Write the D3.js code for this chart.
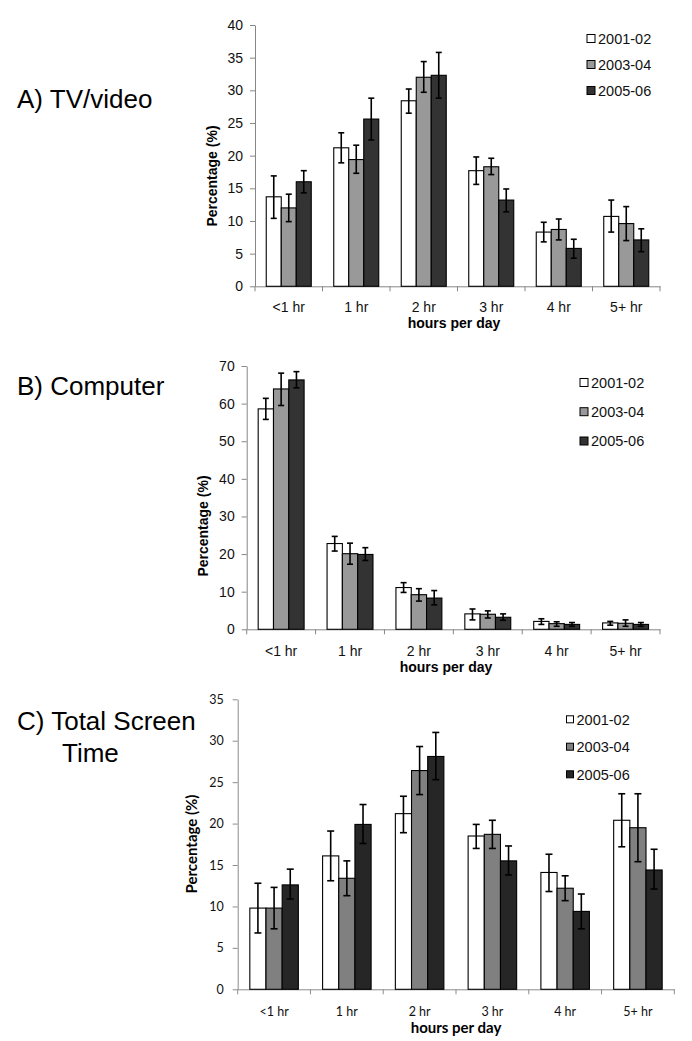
<!DOCTYPE html>
<html>
<head>
<meta charset="utf-8">
<script src="https://cdn.jsdelivr.net/npm/d3@7"></script>
<style>
  html, body { margin: 0; padding: 0; background: #fff; }
  svg { display: block; }
</style>
</head>
<body>
<svg id="chart" width="692" height="1041"></svg>
<script>
// ---------- DATA ----------
const categories = ["<1 hr", "1 hr", "2 hr", "3 hr", "4 hr", "5+ hr"];
const seriesNames = ["2001-02", "2003-04", "2005-06"];

// A) TV/video  (rows = series 2001-02, 2003-04, 2005-06)
const tvMean = [
  [13.7, 21.2, 28.4, 17.7, 8.3, 10.7],
  [12.0, 19.4, 32.0, 18.3, 8.7, 9.6],
  [16.0, 25.6, 32.3, 13.2, 5.8, 7.1]
];
const tvLow = [
  [10.4, 18.9, 26.5, 15.6, 6.8, 8.3],
  [9.9, 17.3, 29.7, 17.1, 7.1, 7.0],
  [14.3, 22.4, 28.8, 11.4, 4.3, 5.3]
];
const tvHigh = [
  [16.9, 23.5, 30.2, 19.8, 9.8, 13.2],
  [14.1, 21.6, 34.4, 19.6, 10.3, 12.2],
  [17.7, 28.8, 35.8, 14.9, 7.2, 8.8]
];
const tvTicks = [0, 5, 10, 15, 20, 25, 30, 35, 40];

// B) Computer
const compMean = [
  [58.6, 22.8, 11.1, 4.1, 2.1, 1.7],
  [63.9, 20.1, 9.2, 4.0, 1.5, 1.6],
  [66.3, 19.9, 8.3, 3.2, 1.3, 1.3]
];
const compLow = [
  [55.8, 20.8, 9.8, 2.5, 1.3, 1.1],
  [59.5, 17.3, 7.5, 3.0, 0.8, 0.8],
  [64.2, 18.3, 6.5, 2.4, 0.8, 0.8]
];
const compHigh = [
  [61.4, 24.7, 12.4, 5.4, 2.8, 2.1],
  [68.1, 22.9, 10.8, 4.9, 2.0, 2.5],
  [68.5, 21.7, 10.3, 4.1, 1.8, 1.8]
];
const compTicks = [0, 10, 20, 30, 40, 50, 60, 70];

// C) Total Screen Time
const totalMean = [
  [9.8, 16.1, 21.2, 18.5, 14.1, 20.4],
  [9.8, 13.4, 26.4, 18.7, 12.2, 19.5],
  [12.6, 19.9, 28.1, 15.5, 9.4, 14.4]
];
const totalLow = [
  [6.8, 13.1, 18.9, 17.0, 11.8, 17.2],
  [7.3, 11.3, 23.5, 17.0, 10.7, 15.4],
  [10.9, 17.6, 25.3, 13.8, 7.3, 12.1]
];
const totalHigh = [
  [12.8, 19.1, 23.3, 19.9, 16.3, 23.6],
  [12.3, 15.5, 29.3, 20.4, 13.7, 23.6],
  [14.5, 22.3, 31.0, 17.3, 11.5, 16.9]
];
const totalTicks = [0, 5, 10, 15, 20, 25, 30, 35];

const yTitle = "Percentage (%)";
const xTitle = "hours per day";

// ---------- DRAW ----------
const svg = d3.select("#chart");
const ARIAL = "'Liberation Sans', Arial, Helvetica, sans-serif";
const CAL = "Lato, 'Open Sans', sans-serif";

function panel(cfg) {
  const g = svg.append("g");
  const y = d3.scaleLinear().domain([0, cfg.max]).range([cfg.y0, cfg.yTop]);
  const x = d3.scaleBand().domain(categories).range([cfg.x0, cfg.x1])
    .paddingInner(1 / 3).paddingOuter(1 / 6);
  const xs = d3.scaleBand().domain(seriesNames).range([0, x.bandwidth()]);

  // y axis
  const ya = g.append("g").attr("transform", `translate(${cfg.x0},0)`)
    .call(d3.axisLeft(y).tickValues(cfg.ticks).tickSize(5).tickSizeOuter(0).tickPadding(cfg.yPad));
  ya.select(".domain").attr("stroke", cfg.axisColor);
  ya.selectAll(".tick line").attr("stroke", cfg.axisColor);
  ya.selectAll(".tick text").attr("font-family", cfg.tickFont).attr("font-size", cfg.tickSize)
    .attr("fill", "#111");

  // x axis
  const xa = g.append("g").attr("transform", `translate(0,${cfg.y0})`)
    .call(d3.axisBottom(x).tickSize(0).tickSizeOuter(0).tickPadding(cfg.xPad));
  xa.select(".domain").attr("stroke", cfg.axisColor);
  xa.selectAll(".tick text").attr("font-family", cfg.tickFont).attr("font-size", cfg.tickSize)
    .attr("fill", "#111");
  const bounds = categories.map(c => x(c) - x.step() * x.paddingOuter()).concat([cfg.x1]);
  g.selectAll(".xb").data(bounds).join("line")
    .attr("x1", d => d).attr("x2", d => d)
    .attr("y1", cfg.y0).attr("y2", cfg.y0 + 5)
    .attr("stroke", cfg.axisColor);

  // bars
  const rows = [];
  seriesNames.forEach((s, si) => {
    categories.forEach((c, ci) => {
      rows.push({ s, si, c, v: cfg.mean[si][ci], lo: cfg.low[si][ci], hi: cfg.high[si][ci] });
    });
  });
  g.selectAll(".bar").data(rows).join("rect")
    .attr("x", d => x(d.c) + xs(d.s))
    .attr("y", d => y(d.v))
    .attr("width", xs.bandwidth())
    .attr("height", d => y(0) - y(d.v))
    .attr("fill", d => cfg.colors[d.si])
    .attr("stroke", "#000").attr("stroke-width", 1.1);

  // error bars
  const cx = d => x(d.c) + xs(d.s) + xs.bandwidth() / 2;
  const eb = g.selectAll(".err").data(rows).join("g");
  eb.append("line").attr("x1", cx).attr("x2", cx)
    .attr("y1", d => y(d.lo)).attr("y2", d => y(d.hi))
    .attr("stroke", "#000").attr("stroke-width", 1.6);
  [d => d.lo, d => d.hi].forEach(f => {
    eb.append("line").attr("x1", d => cx(d) - cfg.cap).attr("x2", d => cx(d) + cfg.cap)
      .attr("y1", d => y(f(d))).attr("y2", d => y(f(d)))
      .attr("stroke", "#000").attr("stroke-width", 1.6);
  });

  // axis titles
  g.append("text").attr("transform", `translate(${cfg.yTitleX},${cfg.yTitleY}) rotate(-90)`)
    .attr("text-anchor", "middle").attr("dy", "0.35em")
    .attr("font-family", cfg.titleFont).attr("font-size", cfg.titleSize).attr("font-weight", "bold")
    .text(yTitle);
  g.append("text").attr("x", cfg.xTitleX).attr("y", cfg.xTitleY)
    .attr("text-anchor", "middle")
    .attr("font-family", cfg.titleFont).attr("font-size", cfg.titleSize).attr("font-weight", "bold")
    .text(xTitle);

  // legend
  const lg = g.selectAll(".leg").data(seriesNames).join("g")
    .attr("transform", (d, i) => `translate(${cfg.legX},${cfg.legY[i]})`);
  lg.append("rect").attr("x", 0).attr("y", -cfg.legSq / 2).attr("width", cfg.legSq).attr("height", cfg.legSq)
    .attr("fill", (d, i) => cfg.colors[i]).attr("stroke", "#000").attr("stroke-width", 1);
  lg.append("text").attr("x", cfg.legSq + 3).attr("y", 0).attr("dy", "0.36em")
    .attr("font-family", ARIAL).attr("font-size", 14.5).attr("fill", "#111").text(d => d);

  // panel label
  cfg.label.forEach(l => {
    svg.append("text").attr("x", l.x).attr("y", l.y)
      .attr("font-family", ARIAL).attr("font-size", 26).attr("fill", "#000").text(l.t);
  });
}

panel({
  mean: tvMean, low: tvLow, high: tvHigh, ticks: tvTicks, max: 40,
  x0: 255, x1: 660, y0: 286.3, yTop: 25,
  colors: ["#ffffff", "#999999", "#333333"], axisColor: "#868686",
  tickFont: ARIAL, tickSize: 14, yPad: 7, xPad: 16,
  titleFont: ARIAL, titleSize: 14,
  yTitleX: 212, yTitleY: 176, xTitleX: 454, xTitleY: 328,
  legX: 587, legY: [38.5, 64.5, 90.5], legSq: 8, cap: 3,
  label: [{ t: "A) TV/video", x: 17, y: 108 }]
});

panel({
  mean: compMean, low: compLow, high: compHigh, ticks: compTicks, max: 70,
  x0: 246.7, x1: 660, y0: 629.3, yTop: 366,
  colors: ["#ffffff", "#999999", "#333333"], axisColor: "#868686",
  tickFont: ARIAL, tickSize: 14, yPad: 7, xPad: 16.5,
  titleFont: ARIAL, titleSize: 14,
  yTitleX: 203, yTitleY: 526, xTitleX: 446, xTitleY: 672,
  legX: 580, legY: [382.5, 411.7, 441], legSq: 8, cap: 3,
  label: [{ t: "B) Computer", x: 17, y: 395 }]
});

panel({
  mean: totalMean, low: totalLow, high: totalHigh, ticks: totalTicks, max: 35,
  x0: 237.7, x1: 674.3, y0: 989.3, yTop: 699.3,
  colors: ["#ffffff", "#808080", "#262626"], axisColor: "#8c8c8c",
  tickFont: CAL, tickSize: 12.5, yPad: 9, xPad: 18,
  titleFont: CAL, titleSize: 15,
  yTitleX: 192, yTitleY: 844, xTitleX: 456, xTitleY: 1033,
  legX: 566.5, legY: [719.3, 746.7, 774.3], legSq: 7, cap: 3.5,
  label: [{ t: "C) Total Screen", x: 17, y: 730 }, { t: "Time", x: 62, y: 762 }]
});
</script>
</body>
</html>
